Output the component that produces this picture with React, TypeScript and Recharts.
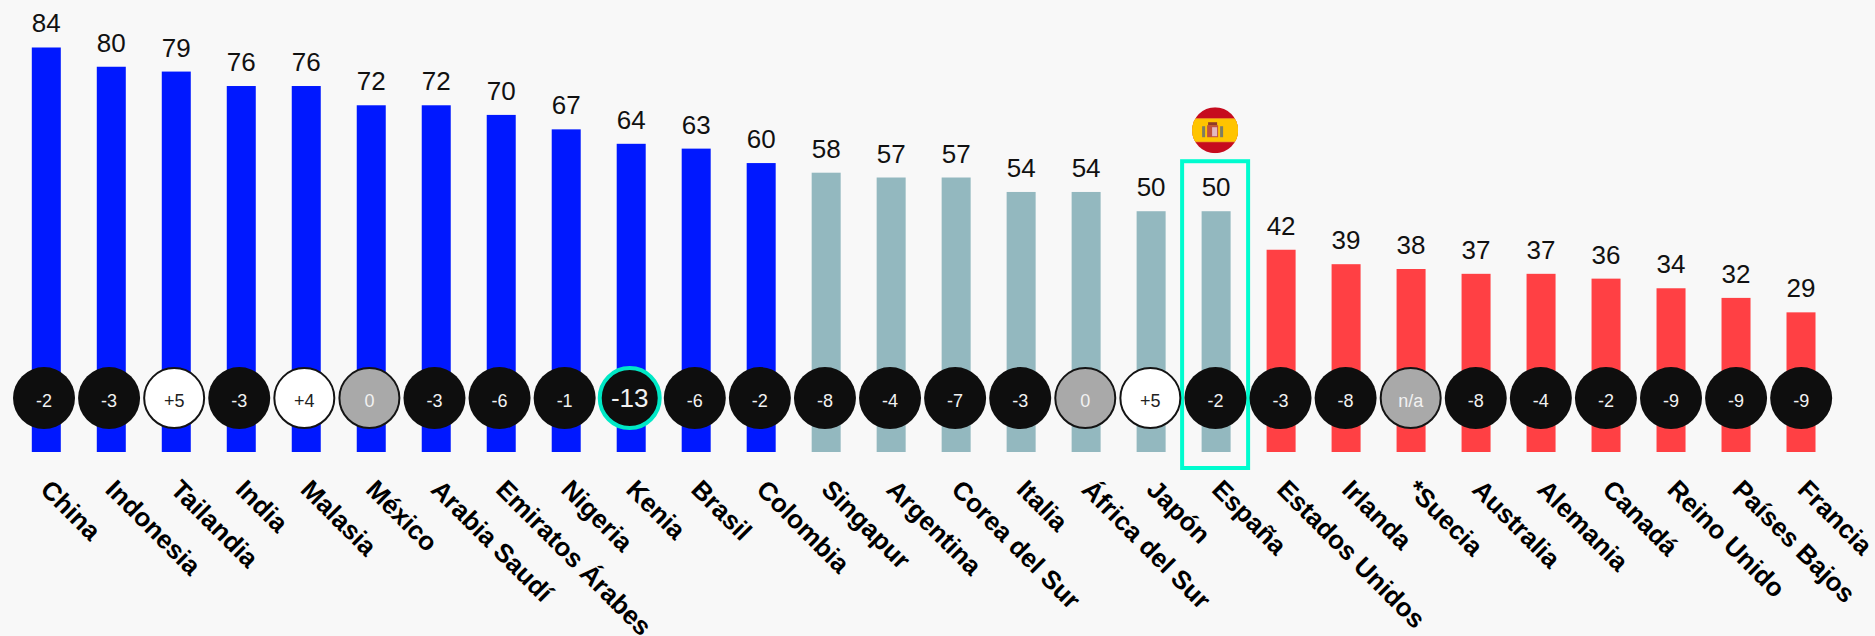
import React from 'react';
import { ComposedChart, Bar, Scatter, XAxis, YAxis, Cell, LabelList } from 'recharts';

const countries = [
  'China', 'Indonesia', 'Tailandia', 'India', 'Malasia', 'México', 'Arabia Saudí', 'Emiratos Árabes',
  'Nigeria', 'Kenia', 'Brasil', 'Colombia', 'Singapur', 'Argentina', 'Corea del Sur', 'Italia',
  'África del Sur', 'Japón', 'España', 'Estados Unidos', 'Irlanda', '*Suecia', 'Australia', 'Alemania',
  'Canadá', 'Reino Unido', 'Países Bajos', 'Francia',
];
const scores = [84, 80, 79, 76, 76, 72, 72, 70, 67, 64, 63, 60, 58, 57, 57, 54, 54, 50, 50, 42, 39, 38, 37, 37, 36, 34, 32, 29];
const changes = ['-2', '-3', '+5', '-3', '+4', '0', '-3', '-6', '-1', '-13', '-6', '-2', '-8', '-4', '-7', '-3', '0', '+5', '-2', '-3', '-8', 'n/a', '-8', '-4', '-2', '-9', '-9', '-9'];

const BLUE = '#0018ff';
const TEAL = '#93b8bf';
const RED = '#ff4044';
const ACCENT = '#00fccf';

const HIGHLIGHT = 'España';
const BIGGEST_DROP = 'Kenia';
const BADGE_LEVEL = 11.2; // badges sit in one row across the bars

const chartData = countries.map((name, i) => ({
  name,
  score: scores[i],
  change: changes[i],
  badge: BADGE_LEVEL,
}));

const barColor = (score: number) => (score >= 60 ? BLUE : score >= 50 ? TEAL : RED);

// bar that also gets the outline and flag when it is the highlighted country
const ScoreBar = (props: any) => {
  const { x, y, width, height, fill, payload } = props;
  const cx = x + width / 2;
  return (
    <g>
      <rect x={x} y={y} width={width} height={height} fill={fill} />
      {payload.name === HIGHLIGHT && (
        <g>
          <rect x={cx - 34} y={y - 50} width={66} height={height + 66} fill="none" stroke={ACCENT} strokeWidth={4} />
          <g transform={`translate(${cx - 1} ${y - 81})`}>
            <clipPath id="flag-clip"><circle r={23} /></clipPath>
            <g clipPath="url(#flag-clip)">
              <rect x={-23} y={-23} width={46} height={46} fill="#c60b1e" />
              <rect x={-23} y={-12} width={46} height={24} fill="#f0a51e" />
              <rect x={-23} y={-11} width={46} height={22} fill="#ffc400" />
              <rect x={-8} y={-5} width={11} height={12} fill="#c0513f" />
              <rect x={-3} y={-3} width={5} height={9} fill="#e3b9c0" />
              <rect x={-13} y={-4} width={3} height={11} fill="#7d7d62" />
              <rect x={5} y={-4} width={3} height={11} fill="#7d7d62" />
              <rect x={-7} y={-8} width={9} height={3} fill="#8f3a28" />
            </g>
          </g>
        </g>
      )}
    </g>
  );
};

const ChangeBadge = (props: any) => {
  const { cx, cy, payload } = props;
  const big = payload.name === BIGGEST_DROP;
  const up = payload.change.startsWith('+');
  const flat = payload.change === '0' || payload.change === 'n/a';
  const fill = up ? '#ffffff' : flat ? '#a9a9a9' : '#0e0e0e';
  const stroke = big ? '#00e8c6' : up || flat ? '#141414' : 'none';
  return (
    <g>
      <circle cx={cx} cy={cy} r={big ? 30 : up || flat ? 30 : 31} fill={fill} stroke={stroke} strokeWidth={big ? 4 : 2} />
      <text
        x={cx}
        y={cy + 9}
        textAnchor="middle"
        fontFamily="Liberation Sans, Arial, sans-serif"
        fontSize={big ? 26 : 18}
        fill={up ? '#222222' : '#f2f2f2'}
      >
        {payload.change}
      </text>
    </g>
  );
};

const CountryTick = ({ x, payload }: any) => (
  <text
    x={0}
    y={0}
    transform={`translate(${x - 5} 491) rotate(45)`}
    textAnchor="start"
    fontFamily="Liberation Sans, Arial, sans-serif"
    fontWeight="bold"
    fontSize={26}
    fill="#000000"
  >
    {payload.value}
  </text>
);

export default function App() {
  return (
    <div style={{ position: 'absolute', left: 0, top: 0, width: 1875, height: 636, background: '#f8f8f8', overflow: 'hidden' }}>
      <ComposedChart width={1875} height={636} data={chartData} margin={{ top: 18.6, right: 41, bottom: 0, left: 11 }}>
        <YAxis hide domain={[0, 90]} />
        <XAxis xAxisId="bars" dataKey="name" type="category" hide padding={{ left: 2.8, right: 0.5 }} />
        <XAxis
          xAxisId="badges"
          dataKey="name"
          type="category"
          height={184}
          interval={0}
          axisLine={false}
          tickLine={false}
          tick={<CountryTick />}
          padding={{ left: 0.46, right: 0.3 }}
        />
        <Bar xAxisId="bars" dataKey="score" barSize={29} shape={<ScoreBar />} isAnimationActive={false}>
          {chartData.map((d) => (
            <Cell key={d.name} fill={barColor(d.score)} />
          ))}
          <LabelList
            dataKey="score"
            position="top"
            offset={15}
            fontFamily="Liberation Sans, Arial, sans-serif"
            fontSize={26}
            fill="#111111"
          />
        </Bar>
        <Scatter xAxisId="badges" dataKey="badge" shape={<ChangeBadge />} isAnimationActive={false} />
      </ComposedChart>
    </div>
  );
}
